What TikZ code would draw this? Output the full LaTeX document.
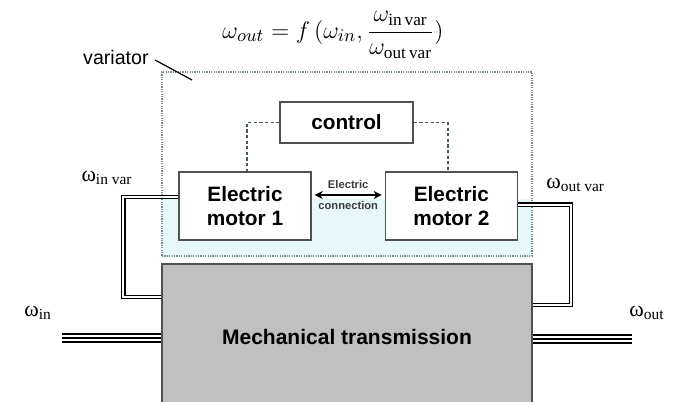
\documentclass[tikz,border=0pt]{standalone}
\usepackage{amsmath}
\usepackage{fontspec}
\setmainfont{Liberation Serif}
\setsansfont{Liberation Sans}
\usepackage{xcolor}
\usepackage{tikz}
\usetikzlibrary{arrows.meta, positioning, backgrounds}
\definecolor{boxgray}{RGB}{80,80,80}
\definecolor{mechgray}{RGB}{192,192,192}
\definecolor{varcyan}{RGB}{230,248,250}
\definecolor{varedge}{RGB}{120,140,145}
\definecolor{ctrlteal}{RGB}{70,90,90}
\definecolor{conngray}{RGB}{60,60,60}

\begin{document}
\begin{tikzpicture}[
      x=0.5pt, y=-0.5pt,
      every node/.style={inner sep=0pt},
      box/.style={draw=boxgray, fill=white, line width=0.7pt, align=center,
                  minimum width=66pt, minimum height=34pt,
                  font=\sffamily\bfseries\fontsize{10.4}{12}\selectfont},
      mechbox/.style={draw=boxgray, fill=mechgray, line width=0.8pt,
                      minimum width=185pt, minimum height=73pt,
                      font=\sffamily\bfseries\fontsize{10.5}{12}\selectfont},
      varbox/.style={draw=varedge, line width=0.6pt, dash pattern=on 0.6pt off 0.6pt,
                     minimum width=185pt, minimum height=92pt},
      ctrlline/.style={draw=ctrlteal, line width=0.7pt, dash pattern=on 1.6pt off 1.2pt},
      elarrow/.style={{Stealth[length=4pt,width=4pt]}-{Stealth[length=4pt,width=4pt]},
                      line width=0.6pt, shorten >=1.5pt, shorten <=1.5pt},
      shaft/.style={draw=black, line width=0.65pt, double=white, double distance=1pt},
      shafttri/.style={shaft, double distance=3.4pt,
                       postaction={draw=black, line width=0.65pt}},
      wlabel/.style={font=\fontsize{11}{13}\selectfont},
      conntext/.style={font=\sffamily\bfseries\fontsize{5.6}{7}\selectfont, text=conngray},
    ]
    \useasboundingbox (0,0) rectangle (678,401);

    % Formula
    \node[font=\fontsize{12.3}{14}\selectfont] (law) at (333,35)
      {$\omega_{out} = f\,(\omega_{in}, \dfrac{\omega_{\mathrm{in\,var}}}{\omega_{\mathrm{out\,var}}})$};

    % Variator
    \node[varbox] (var) at (347,164) {};
    \begin{scope}[on background layer]
      \fill[varcyan] (var.south west) rectangle ([yshift=29pt]var.south east);
    \end{scope}
    \node[anchor=east, font=\sffamily\fontsize{9.8}{12}\selectfont] (varlbl) at (149,57) {variator};
    \coordinate (vtip) at (192,80);
    \draw[line width=0.6pt] ([xshift=3pt,yshift=-1.5pt]varlbl.east) -- (vtip);

    % Control and motors
    \node[box, minimum width=66.5pt, minimum height=20.5pt] (ctrl) at (346.5,122.5) {control};
    \node[box] (mot1) at (245,206) {Electric\\motor 1};
    \node[box, right=36.5pt of mot1] (mot2) {Electric\\motor 2};

    \draw[ctrlline] (ctrl.west) -| ([xshift=1pt]mot1.north);
    \draw[ctrlline] (ctrl.east) -| ([xshift=-1.75pt]mot2.north);

    % Electric connection
    \draw[elarrow] ([yshift=5.5pt]mot1.east) -- ([yshift=5.5pt]mot2.west)
      node[conntext, midway, above=3pt] (elec1) {Electric}
      node[conntext, midway, below=3pt] (elec2) {connection};

    % Mechanical transmission
    \node[mechbox] (mech) at (347,337) {Mechanical transmission};

    % Shafts
    \draw[shaft] ([yshift=4.5pt]mot1.west) -- ++(-55,0) |- ([yshift=20pt]mech.west);
    \draw[shaft] ([yshift=0.75pt]mot2.east) -- ++(53,0) |- ([yshift=16pt]mech.east);
    \coordinate (inL) at (62,338);
    \coordinate (outR) at (632,339);
    \draw[shafttri] (inL) -- (inL -| mech.west);
    \draw[shafttri] (mech.east |- outR) -- (outR);

    % Speeds
    \node[wlabel] (winvar)  at (107,178) {ω\textsubscript{in var}};
    \node[wlabel, anchor=west] (woutvar) at (546,185) {ω\textsubscript{out var}};
    \node[wlabel] (win)  at (38,313)  {ω\textsubscript{in}};
    \node[wlabel] (wout) at (647,313) {ω\textsubscript{out}};

  \end{tikzpicture}
\end{document}
